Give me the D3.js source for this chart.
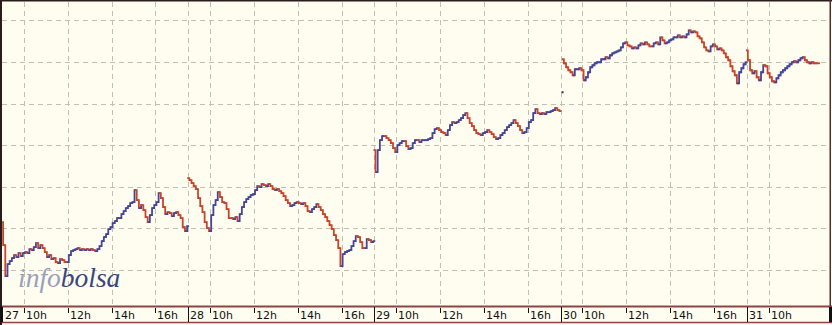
<!DOCTYPE html>
<meta charset="utf-8">

<!-- Load d3.js -->
<script src="https://d3js.org/d3.v7.min.js"></script>

<style>
  body { margin: 0; background: #fffcf0; }
</style>

<!-- Create an element where the chart will take place -->
<svg id="my_dataviz" width="832" height="325"></svg>

<script>

// Sessions run 9:00 - 17:30, one price every 6 minutes
var days = ["27", "28", "29", "30", "31"];
var hourTicks = [10, 12, 14, 16];
var priceGrid = [50, 52.5, 55, 57.5, 60, 62.5, 65];
var sessionHours = 8.5;
var stepMinutes = 6;

var day27 = [
  52.88, 51.50, 49.64, 50.36, 50.54, 50.72, 50.90, 50.78, 51.02, 50.84,
  51.02, 51.08, 51.02, 51.26, 51.20, 51.38, 51.62, 51.32, 51.50, 51.32,
  51.08, 50.78, 50.90, 50.66, 50.72, 50.48, 50.42, 50.66, 50.60, 50.48,
  50.48, 50.90, 51.14, 51.20, 51.26, 51.32, 51.20, 51.26, 51.20, 51.26,
  51.20, 51.26, 51.20, 51.14, 51.26, 51.44, 51.74, 51.98, 52.16, 52.46,
  52.58, 52.82, 52.94, 53.12, 53.12, 53.36, 53.54, 53.72, 53.84, 54.02,
  54.08, 54.80, 54.20, 53.72, 53.90, 53.60, 53.18, 52.88, 53.30, 53.72,
  53.90, 54.08, 54.62, 54.32, 53.78, 53.36, 53.48, 53.42, 53.24, 53.42,
  53.48, 53.30, 53.12, 52.58, 52.34, 52.64
];

var day28 = [
  55.52, 55.40, 55.22, 55.04, 54.86, 54.32, 53.84, 53.48, 52.88, 52.52,
  52.34, 53.30, 53.90, 54.20, 54.68, 54.38, 54.08, 54.02, 53.66, 53.12,
  53.12, 53.06, 53.18, 52.94, 53.36, 53.78, 54.08, 54.26, 54.38, 54.50,
  54.56, 54.80, 55.04, 54.98, 55.16, 55.10, 55.04, 55.16, 55.04, 54.86,
  54.80, 54.86, 54.74, 54.62, 54.44, 54.20, 54.02, 53.84, 53.90, 54.02,
  54.08, 54.02, 53.96, 54.02, 53.84, 53.54, 53.48, 53.66, 53.78, 53.96,
  53.78, 53.60, 53.36, 53.18, 52.94, 52.70, 52.46, 52.10, 51.80, 51.32,
  50.24, 50.96, 51.08, 51.14, 51.20, 51.44, 51.74, 52.04, 51.98, 51.68,
  51.32, 51.32, 51.86, 51.80, 51.68, 51.74
];

var day29 = [
  57.20, 55.88, 57.20, 57.80, 58.04, 58.04, 57.92, 57.80, 57.62, 57.32,
  57.08, 57.50, 57.62, 57.74, 57.74, 57.44, 57.26, 57.32, 57.62, 57.80,
  57.80, 57.68, 57.80, 57.80, 57.80, 57.86, 57.92, 58.22, 58.46, 58.52,
  58.40, 58.28, 58.22, 58.10, 58.40, 58.70, 58.88, 58.82, 58.88, 59.00,
  59.12, 59.30, 59.42, 59.12, 58.82, 58.64, 58.40, 58.22, 58.16, 58.10,
  58.22, 58.28, 58.40, 58.28, 58.16, 57.98, 57.86, 57.92, 58.10, 58.22,
  58.40, 58.58, 58.70, 58.82, 59.00, 58.82, 58.64, 58.40, 58.22, 58.28,
  58.52, 58.88, 59.00, 59.42, 59.66, 59.42, 59.36, 59.42, 59.36, 59.48,
  59.48, 59.54, 59.60, 59.72, 59.60, 59.54
];

// day 30: lone opening print at 9:00, then the series from 9:06
var open30 = 60.68;
var day30 = [
  62.66, 62.42, 62.18, 62.00, 61.88, 61.70, 62.06, 62.06, 62.12, 62.00,
  61.40, 61.58, 61.88, 62.18, 62.30, 62.42, 62.48, 62.48, 62.66, 62.66,
  62.78, 62.72, 62.90, 63.02, 63.08, 63.14, 63.20, 63.38, 63.62, 63.68,
  63.50, 63.44, 63.32, 63.38, 63.32, 63.50, 63.62, 63.56, 63.68, 63.56,
  63.44, 63.44, 63.62, 63.68, 63.56, 63.98, 63.80, 63.62, 63.68, 63.80,
  63.86, 63.98, 63.98, 64.10, 63.98, 64.04, 63.98, 64.16, 64.40, 64.28,
  64.34, 64.28, 64.04, 63.92, 63.68, 63.38, 63.20, 63.14, 63.44, 63.56,
  63.44, 63.26, 63.32, 63.20, 63.02, 62.78, 62.60, 62.24, 61.94, 61.70,
  61.22, 61.88, 62.12, 62.36, 62.48
];

var day31 = [
  63.20, 62.60, 62.00, 61.82, 61.94, 61.58, 61.40, 61.88, 62.30, 62.24,
  61.82, 61.58, 61.34, 61.28, 61.52, 61.70, 61.88, 62.00, 62.12, 62.24,
  62.36, 62.48, 62.54, 62.48, 62.60, 62.72, 62.78, 62.60, 62.48, 62.42,
  62.48, 62.42, 62.42, 62.42
];

var series = [day27, day28, day29, day30, day31];
var firstMinute = [0, 0, 0, 6, 0];

// The svg
var svg = d3.select("svg"),
    width = +svg.attr("width"),
    height = +svg.attr("height");

var plotBottom = 305;

// Scales: x in trading hours since the first open, days back to back
var x = d3.scaleLinear()
    .domain([0, 37.8])
    .range([2, 830]);

var y = d3.scaleLinear()
    .domain([47.9, 66.1])
    .range([plotBottom, 2]);

function sessionTime(dayIndex, minutes) {
  return dayIndex * sessionHours + minutes / 60;
}

// background
svg.append("rect")
    .attr("width", width)
    .attr("height", height)
    .attr("fill", "#fffcf0");

// grid
var grid = svg.append("g")
    .attr("stroke", "#c2bfb4")
    .attr("stroke-width", 1)
    .attr("stroke-dasharray", "5,4");

grid.selectAll("line.h")
  .data(priceGrid)
  .enter()
  .append("line")
    .attr("x1", 2)
    .attr("x2", 830)
    .attr("y1", function(d){ return Math.round(y(d)) + 0.5 })
    .attr("y2", function(d){ return Math.round(y(d)) + 0.5 });

// hour marks, only where a label still fits
var hourData = [];
days.forEach(function(d, i){
  hourTicks.forEach(function(h){
    var t = sessionTime(i, (h - 9) * 60);
    if (x(t) < 800) hourData.push({ t: t, label: h + "h" });
  });
});

var dayStarts = days.slice(1).map(function(d, i){ return sessionTime(i + 1, 0) });

grid.selectAll("line.v")
  .data(hourData.map(function(d){ return d.t }).concat(dayStarts))
  .enter()
  .append("line")
    .attr("x1", function(d){ return Math.round(x(d)) + 0.5 })
    .attr("x2", function(d){ return Math.round(x(d)) + 0.5 })
    .attr("y1", 2)
    .attr("y2", plotBottom);

// watermark
var wm = svg.append("text")
    .attr("x", 18)
    .attr("y", 287)
    .style("font-family", "'Liberation Serif', serif")
    .style("font-style", "italic")
    .style("font-size", "27.5px");
wm.append("tspan").attr("fill", "#9aa0bc").text("info");
wm.append("tspan").attr("fill", "#3a4680").text("bolsa");

// price trace as small steps, each step coloured by direction
var up = "#45459a", down = "#c8452a";
var segs = [];
series.forEach(function(vals, i){
  var pts = vals.map(function(v, k){
    return { t: sessionTime(i, firstMinute[i] + k * stepMinutes), v: v };
  });
  var col = down;
  for (var k = 1; k < pts.length; k++) {
    if (pts[k].v > pts[k-1].v) col = up;
    else if (pts[k].v < pts[k-1].v) col = down;
    segs.push({ a: pts[k-1], b: pts[k], c: col });
  }
});

svg.append("g")
    .attr("fill", "none")
  .selectAll("path")
  .data(segs)
  .enter()
  .append("path")
    .attr("d", function(d){
      var xm = (x(d.a.t) + x(d.b.t)) / 2;
      return "M" + x(d.a.t) + "," + y(d.a.v) + "H" + xm + "V" + y(d.b.v) + "H" + x(d.b.t);
    })
    .attr("stroke", function(d){ return d.c })
    .attr("stroke-width", 1.8)
    .attr("stroke-linecap", "square");

// opening print of day 30
svg.append("rect")
    .attr("x", x(sessionTime(3, 0)) + 1)
    .attr("y", y(open30) - 1)
    .attr("width", 2)
    .attr("height", 2)
    .attr("fill", "#333355");

// bottom axis strip
svg.append("rect")
    .attr("x", 0)
    .attr("y", 306)
    .attr("width", width)
    .attr("height", 17)
    .attr("fill", "#fffcf0");

svg.append("line")
    .attr("x1", 0).attr("x2", width)
    .attr("y1", 306.5).attr("y2", 306.5)
    .attr("stroke", "#8e4444")
    .attr("stroke-width", 2);

svg.append("line")
    .attr("x1", 0).attr("x2", width)
    .attr("y1", 322.5).attr("y2", 322.5)
    .attr("stroke", "#8e4444")
    .attr("stroke-width", 1.5);

var axis = svg.append("g")
    .style("font-family", "'DejaVu Sans', sans-serif")
    .style("font-size", "11px")
    .attr("fill", "#111");

// day separators and labels
axis.selectAll("line.day")
  .data(dayStarts)
  .enter()
  .append("line")
    .attr("x1", function(d){ return Math.round(x(d)) + 0.5 })
    .attr("x2", function(d){ return Math.round(x(d)) + 0.5 })
    .attr("y1", 307)
    .attr("y2", 322)
    .attr("stroke", "#111");

axis.selectAll("text.day")
  .data(days)
  .enter()
  .append("text")
    .attr("x", function(d, i){ return Math.max(5, Math.round(x(sessionTime(i, 0))) + 2) })
    .attr("y", 319)
    .text(function(d){ return d });

// hour ticks and labels
axis.selectAll("line.hour")
  .data(hourData)
  .enter()
  .append("line")
    .attr("x1", function(d){ return Math.round(x(d.t)) + 0.5 })
    .attr("x2", function(d){ return Math.round(x(d.t)) + 0.5 })
    .attr("y1", 308)
    .attr("y2", 313)
    .attr("stroke", "#111");

axis.selectAll("text.hour")
  .data(hourData)
  .enter()
  .append("text")
    .attr("x", function(d){ return Math.round(x(d.t)) + 2 })
    .attr("y", 319)
    .text(function(d){ return d.label });

// frame
svg.append("rect").attr("x", 0).attr("y", 0).attr("width", 2).attr("height", height).attr("fill", "#2a1c1c");
svg.append("rect").attr("x", 0).attr("y", 0).attr("width", width).attr("height", 1.5).attr("fill", "#2a1c1c");
svg.append("rect").attr("x", 829.5).attr("y", 0).attr("width", 1.5).attr("height", 306).attr("fill", "#4a3030");
svg.append("rect").attr("x", 0).attr("y", 307).attr("width", 3).attr("height", 15).attr("fill", "#111");
svg.append("rect").attr("x", 829).attr("y", 307).attr("width", 3).attr("height", 15).attr("fill", "#111");

</script>
